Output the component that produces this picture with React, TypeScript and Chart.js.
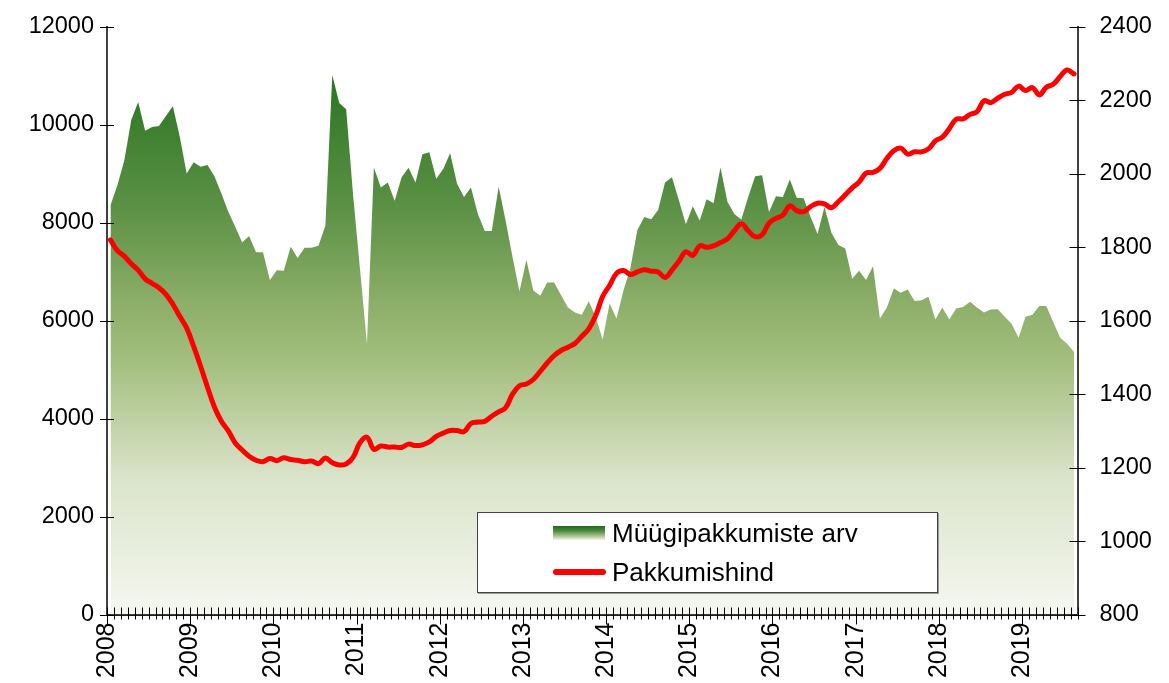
import React, { useEffect, useRef } from 'react';
import { Chart, registerables } from 'chart.js';

Chart.register(...registerables);

// ---- data (monthly, Jan 2008 .. Aug 2019) ----
const START_YEAR = 2008;
const AXIS_MONTHS = 140;

const areaLabel = 'Müügipakkumiste arv';
const lineLabel = 'Pakkumishind';

const listingCounts = [
  8360, 8770, 9280, 10100, 10470, 9880, 9960, 9980, 10180, 10380, 9760, 9010,
  9240, 9145, 9180, 8950, 8600, 8225, 7920, 7600, 7730, 7400, 7400, 6830,
  7030, 7020, 7510, 7280, 7490, 7490, 7530, 7940, 11020, 10450, 10320, 8570,
  7050, 5530, 9130, 8720, 8825, 8450, 8930, 9125, 8825, 9400, 9440, 8900,
  9100, 9420, 8800, 8530, 8720, 8180, 7835, 7835, 8735, 8050, 7300, 6600,
  7240, 6620, 6510, 6780, 6780, 6520, 6270, 6170, 6125, 6400, 6080, 5615,
  6350, 6045, 6620, 7070, 7850, 8120, 8075, 8260, 8825, 8930, 8460, 7970,
  8340, 8050, 8480, 8400, 9130, 8430, 8180, 8070, 8530, 8950, 8970, 8220,
  8545, 8530, 8885, 8510, 8500, 8120, 7770, 8325, 7800, 7545, 7475, 6860,
  7020, 6830, 7115, 6045, 6270, 6660, 6570, 6640, 6405, 6420, 6490, 6025,
  6270, 6025, 6250, 6280, 6390, 6270, 6170, 6230, 6235, 6080, 5940, 5655,
  6080, 6125, 6300, 6300, 5975, 5655, 5530, 5360,
];

const askingPrice = [
  1820, 1791, 1776, 1755, 1738, 1714, 1702, 1690, 1672, 1645, 1612, 1580,
  1530, 1476, 1419, 1365, 1326, 1300, 1267, 1248, 1231, 1220, 1216, 1225,
  1219, 1227, 1222, 1220, 1216, 1218, 1211, 1226, 1213, 1207, 1210, 1228,
  1268, 1283, 1250, 1259, 1256, 1256, 1255, 1264, 1260, 1262, 1270, 1285,
  1294, 1301, 1301, 1298, 1320, 1324, 1326, 1340, 1352, 1363, 1400, 1423,
  1428, 1440, 1462, 1485, 1505, 1519, 1528, 1538, 1558, 1578, 1614, 1666,
  1696, 1729, 1737, 1726, 1733, 1739, 1735, 1733, 1718, 1738, 1762, 1788,
  1778, 1804, 1800, 1804, 1813, 1823, 1845, 1864, 1845, 1829, 1834, 1866,
  1879, 1888, 1913, 1900, 1897, 1911, 1920, 1918, 1908, 1924, 1943, 1962,
  1978, 2002, 2004, 2015, 2042, 2063, 2070, 2054, 2060, 2060, 2068, 2090,
  2100, 2123, 2149, 2150, 2162, 2169, 2199, 2194, 2206, 2217, 2222, 2239,
  2227, 2235, 2215, 2236, 2244, 2265, 2283, 2272,
];

const leftAxis = { min: 0, max: 12000, step: 2000 };
const rightAxis = { min: 800, max: 2400, step: 200 };

const FONT = '"Liberation Sans", Arial, sans-serif';

const crossTicks = {
  id: 'crossTicks',
  afterDraw(chart: any) {
    const { ctx, chartArea, scales } = chart;
    const xs = scales.x, ys = scales.y, y1 = scales.y1;
    ctx.save();
    ctx.strokeStyle = '#000';
    ctx.lineWidth = 1;
    ctx.beginPath();
    for (const t of xs.ticks) {
      const px = Math.round(xs.getPixelForValue(t.value)) + 0.5;
      const major = t.value % 12 === 0;
      ctx.moveTo(px, chartArea.bottom - 7);
      ctx.lineTo(px, chartArea.bottom + (major ? 10 : 5));
    }
    for (const t of ys.ticks) {
      const py = Math.round(ys.getPixelForValue(t.value)) + 0.5;
      ctx.moveTo(chartArea.left - 7, py);
      ctx.lineTo(chartArea.left + 7, py);
    }
    for (const t of y1.ticks) {
      const py = Math.round(y1.getPixelForValue(t.value)) + 0.5;
      ctx.moveTo(chartArea.right - 8, py);
      ctx.lineTo(chartArea.right + 8, py);
    }
    ctx.stroke();
    ctx.restore();
  },
};

function areaGradient(context: any) {
  const { chart } = context;
  const { ctx, chartArea } = chart;
  if (!chartArea) return 'rgba(90,144,68,0.8)';
  const g = ctx.createLinearGradient(0, chartArea.top, 0, chartArea.bottom);
  g.addColorStop(0, '#21701b');
  g.addColorStop(0.12, '#2f7a27');
  g.addColorStop(0.21, '#478536');
  g.addColorStop(0.3, '#5a9044');
  g.addColorStop(0.36, '#6a9a4f');
  g.addColorStop(0.465, '#8bae68');
  g.addColorStop(0.567, '#a3be7e');
  g.addColorStop(0.635, '#b6cb97');
  g.addColorStop(0.77, '#dbe4cb');
  g.addColorStop(1, '#f5f7f0');
  return g;
}

function fixVertical(width: number) {
  return (s: any) => {
    s.width = width;
    s.paddingTop = 0;
    s.paddingBottom = 0;
  };
}

export default function App() {
  const canvasRef = useRef<HTMLCanvasElement | null>(null);

  useEffect(() => {
    if (!canvasRef.current) return;
    const areaPoints = listingCounts.map((v, i) => ({ x: i + 0.5, y: v }));
    const linePoints = askingPrice.map((v, i) => ({ x: i + 0.5, y: v }));

    const chart = new Chart(canvasRef.current, {
      type: 'line',
      data: {
        datasets: [
          {
            label: lineLabel,
            data: linePoints,
            yAxisID: 'y1',
            borderColor: '#ff0000',
            borderWidth: 5,
            borderCapStyle: 'round',
            borderJoinStyle: 'round',
            pointRadius: 0,
            tension: 0.4,
            fill: false,
            order: 0,
          },
          {
            label: areaLabel,
            data: areaPoints,
            yAxisID: 'y',
            borderWidth: 0,
            borderColor: 'rgba(0,0,0,0)',
            backgroundColor: areaGradient,
            pointRadius: 0,
            tension: 0,
            fill: 'origin',
            order: 1,
          },
        ],
      },
      options: {
        responsive: false,
        animation: false,
        events: [],
        layout: { padding: { top: 27, left: 0, right: 0, bottom: 0 } },
        plugins: {
          legend: { display: false },
          tooltip: { enabled: false },
        },
        scales: {
          x: {
            type: 'linear',
            min: 0,
            max: AXIS_MONTHS,
            grid: { display: false, drawTicks: false },
            border: { display: true, color: '#202020', width: 2 },
            afterFit: (s: any) => {
              s.height = 68.5;
              s.paddingLeft = 0;
              s.paddingRight = 0;
            },
            ticks: {
              stepSize: 1,
              autoSkip: false,
              minRotation: 90,
              maxRotation: 90,
              padding: 8,
              color: '#000',
              font: { family: FONT, size: 25 },
              callback: (v: any) => (Number(v) % 12 === 0 ? String(START_YEAR + Number(v) / 12) : ''),
            },
          },
          y: {
            position: 'left',
            min: leftAxis.min,
            max: leftAxis.max,
            grid: { display: false, drawTicks: false },
            border: { display: true, color: '#404040', width: 2 },
            afterFit: fixVertical(107),
            ticks: {
              stepSize: leftAxis.step,
              padding: 13,
              color: '#000',
              font: { family: FONT, size: 23.5 },
              callback: (v: any) => String(v),
            },
          },
          y1: {
            position: 'right',
            min: rightAxis.min,
            max: rightAxis.max,
            grid: { display: false, drawTicks: false },
            border: { display: true, color: '#404040', width: 2 },
            afterFit: fixVertical(91.5),
            ticks: {
              stepSize: rightAxis.step,
              padding: 22,
              color: '#000',
              font: { family: FONT, size: 23.5 },
              callback: (v: any) => String(v),
            },
          },
        },
      },
      plugins: [crossTicks],
    } as any);

    return () => chart.destroy();
  }, []);

  const textStyle: React.CSSProperties = {
    position: 'absolute',
    left: 612,
    fontFamily: FONT,
    fontSize: 26,
    color: '#000',
    lineHeight: '30px',
    whiteSpace: 'nowrap',
  };

  return (
    <div style={{ position: 'fixed', left: 0, top: 0, width: 1169, height: 683, background: '#fff' }}>
      <canvas ref={canvasRef} width={1169} height={683} style={{ display: 'block' }} />
      <div
        style={{
          position: 'absolute',
          left: 477,
          top: 512,
          width: 459,
          height: 79,
          background: '#fff',
          border: '1px solid #444',
          boxShadow: '1px 1px 0 #999',
        }}
      />
      <div
        style={{
          position: 'absolute',
          left: 553,
          top: 526,
          width: 52,
          height: 14,
          background: 'linear-gradient(to bottom, #1b6b1b 0%, #4f8a3f 35%, #b3c99a 75%, #f3f6ee 100%)',
        }}
      />
      <div style={{ ...textStyle, top: 518 }}>{areaLabel}</div>
      <div
        style={{
          position: 'absolute',
          left: 553,
          top: 569,
          width: 53,
          height: 6,
          borderRadius: 3,
          background: '#ff0000',
        }}
      />
      <div style={{ ...textStyle, top: 557 }}>{lineLabel}</div>
    </div>
  );
}
